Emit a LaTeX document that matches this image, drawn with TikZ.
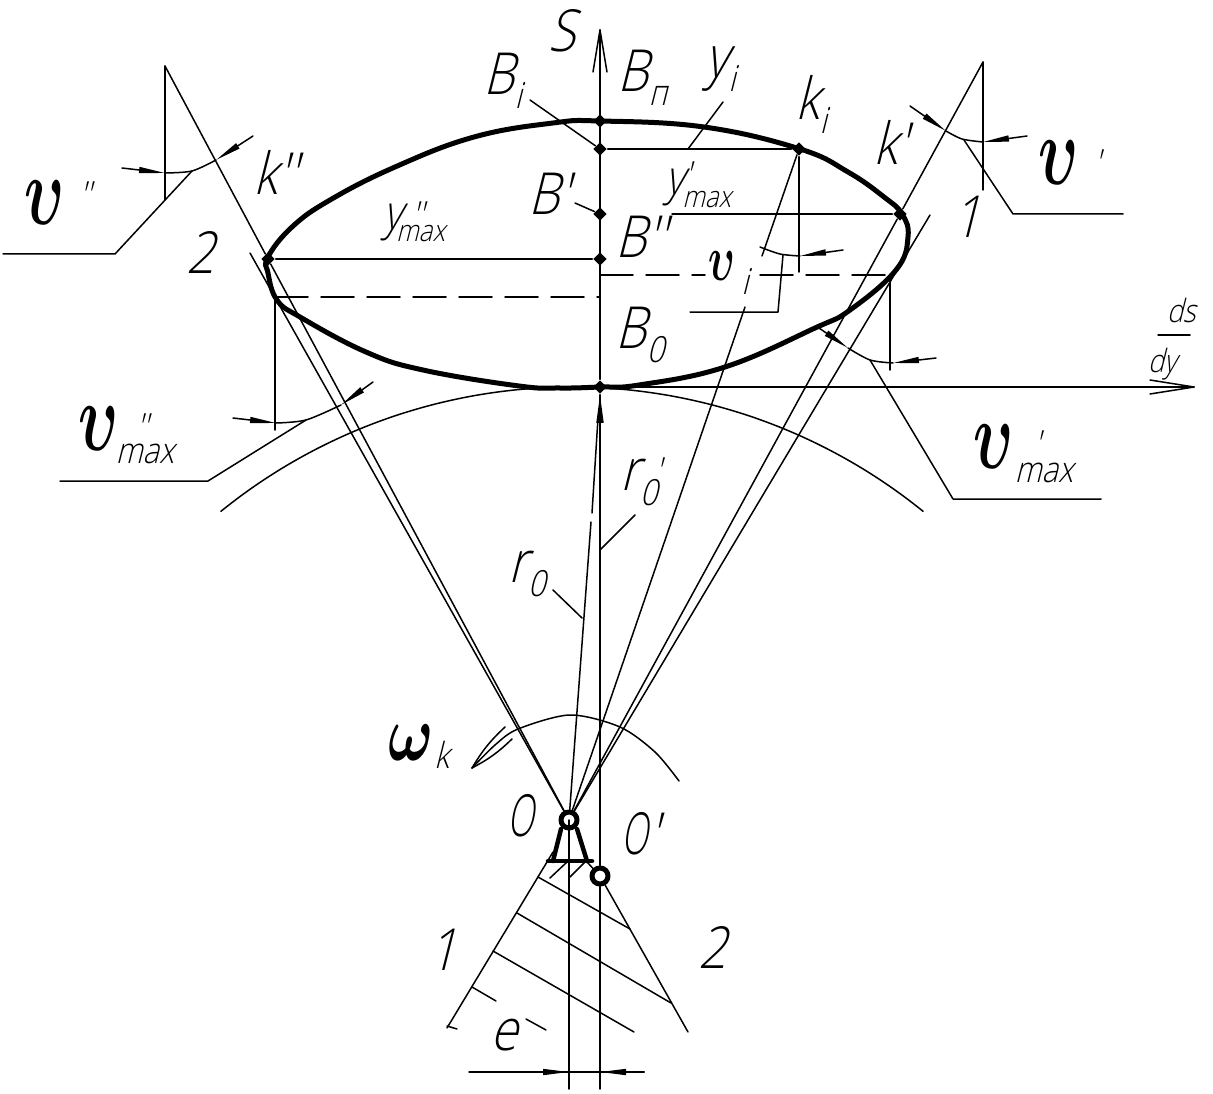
\documentclass[tikz,border=0pt]{standalone}
\usepackage{fontspec}
\usetikzlibrary{arrows.meta,shapes.geometric}
\newfontfamily\isofont[FakeStretch=0.85,FakeSlant=0.25]{Open Sans Light}
\newcommand{\subsz}{\fontsize{36}{40}\selectfont}
\newcommand{\lowtxt}[2][14]{\raisebox{-#1pt}{\subsz #2}}
\newcommand{\hightxt}[2][14]{\raisebox{#1pt}{\subsz #2}}
\newcommand{\lowmax}[1][13]{\raisebox{-#1pt}{\fontsize{30}{32}\selectfont max}}
\newcommand{\mathsym}[3]{\scalebox{#1}[#2]{\fontsize{10}{12}\selectfont\boldmath$#3$}}
\newcommand{\bigv}{\mathsym{6}{9.8}{\upsilon}}
\tikzset{
  lab/.style={anchor=base west,inner sep=0pt,font=\isofont\fontsize{58}{60}\selectfont},
  midlab/.style={lab,font=\isofont\fontsize{48}{50}\selectfont},
  smalllab/.style={anchor=base west,inner sep=0pt,font=\isofont\fontsize{32}{36}\selectfont},
  pt/.style={diamond,fill=black,inner sep=0pt,minimum size=14pt},
  hinge/.style={circle,draw,line width=5pt,inner sep=0pt,minimum size=16pt},
  tip/.style={-{Triangle[length=26pt,width=6pt]}}
}
\begin{document}
\begin{tikzpicture}[x=1pt,y=-1pt,line width=1.5pt,line join=round,line cap=round]
\useasboundingbox (0,0) rectangle (1213,1094);
\def\xO{569} \def\xS{600}
% points on the axis and on the curve
\node[pt] (Bn) at (\xS,121) {};
\node[pt] (Bi) at (\xS,149) {};
\node[pt] (Bp) at (\xS,214) {};
\node[pt] (Bq) at (\xS,259) {};
\node[pt] (B0) at (\xS,387) {};
\node[pt] (ki) at (799,149) {};
\node[pt] (kp) at (900,214) {};
\node[pt] (kq) at (268,259) {};
\node[hinge] (O) at (\xO,820) {};
\node[hinge] (Op) at (\xS,876) {};
\coordinate (apexL) at (165,66);
\coordinate (apexR) at (983,62);
% axes
\draw (\xS,1089)--(Op) (Op)--(B0) (B0)--(\xS,30);
\draw (593,72)--(\xS,30)--(607,72);
\draw (B0)--(1194,387);
\draw (1150,380)--(1194,387)--(1150,394);
\draw (O.center)--(\xO,1089);
\draw (1158,335)--(1190,335);
% curve
\draw[line width=5pt] plot[smooth cycle,tension=0.7] coordinates {(600,121) (704,127) (800,149) (848,172) (884,197) (902,214) (908,237) (896,270) (850,310) (815,328) (725,367) (639,385) (600,387) (560,388) (519,386) (423,370) (366,352) (300,317) (277,300) (268,273) (268,257) (292,227) (330,200) (395,167) (474,137) (553,123)};
% base circle
\draw plot[smooth,samples=60,domain=-39:39] ({572+558*sin(\x)},{945-558*cos(\x)});
% horizontals
\draw (Bi)--(ki) (Bq)--(kq) (kp)--(672,214);
\draw[dash pattern=on 33pt off 13pt] (\xS,275)--(705,275) (760,275)--(890,275);
\draw[dash pattern=on 33pt off 13pt] (275,297)--(\xS,297);
% verticals
\draw (ki)--(799,272) (890,275)--(890,370) (275,297)--(275,430);
\draw (apexL)--(165,200) (apexR)--(983,190);
% rays from the hinge
\draw (apexL)--(kq)--(O);
\draw (250,253)--(O);
\draw (apexR)--(kp)--(O);
\draw (930,215)--(O);
\draw (ki)--(762,256) (745,307)--(O);
\draw (591,522)--(O) (598,418)--(592,513);
\draw[-{Triangle[length=28pt,width=7pt]}] (\xS,430)--(B0);
\draw (553,590)--(582,618) (600,550)--(635,515);
% leaders of the labels
\draw (530,100)--(Bi) (575,203)--(Bp) (723,102)--(688,149);
\draw (192,171)--(115,254)--(3,254);
\draw (964,140)--(1013,214)--(1123,214);
\draw (783,255)--(778,312)--(690,312);
\draw (306,420)--(208,481)--(60,481);
\draw (870,360)--(953,499)--(1101,499);
% angle arcs
\draw[tip] (122,168)--(165,173);
\draw[tip] (253,136)--(216,160);
\draw plot[smooth] coordinates {(165,173) (192,171) (216,160)};
\draw[tip] (910,106)--(946,131);
\draw[tip] (1027,136)--(983,142);
\draw plot[smooth] coordinates {(946,131) (962,139) (983,142)};
\draw[tip] (843,250)--(800,256);
\draw plot[smooth] coordinates {(760,247) (780,254) (800,256)};
\draw[tip] (233,418)--(276,423);
\draw[tip] (373,382)--(341,405);
\draw plot[smooth] coordinates {(276,423) (306,420) (341,405)};
\draw[tip] (819,328)--(848,348);
\draw[tip] (936,358)--(893,363);
\draw plot[smooth] coordinates {(848,348) (870,360) (893,363)};
% rotation arc
\draw plot[smooth] coordinates {(472,768) (495,745) (518,729) (570,715) (620,727) (655,752) (679,781)};
\draw (472,768) to[bend left=8] (505,727);
\draw (472,768) to[bend right=8] (512,739);
% support
\draw[line width=4.5pt] (548,861)--(592,861);
\draw[line width=4.5pt] (561,829)--(553,861) (577,829)--(587,861);
\draw (550,878)--(567,862) (570,877)--(585,862);
% rays 1 and 2 with hatching
\draw (553,852)--(447,1028);
\draw (587,862)--(Op) (Op)--(688,1032);
\draw (538,877)--(630,929);
\draw (517,913)--(671,1003);
\draw (493,951)--(634,1032);
\draw (472,987)--(496,1001) (526,1019)--(546,1030) (447,1026)--(457,1029);
% dimension e
\draw (469,1072)--(644,1072);
\draw[tip] (520,1072)--(\xO,1072);
\draw[tip] (644,1072)--(\xS,1072);
% labels
\node[lab] (tS) at (548,52) {S};
\node[lab] (tBn) at (617,92) {B\lowtxt{п}};
\node[lab] (tBi) at (483,95) {B\lowtxt{i}};
\node[lab] (tBp) at (528,215) {B'};
\node[lab] (tBq) at (615,258) {B''};
\node[lab] (tB0) at (615,348) {B\lowtxt{0}};
\node[lab] (tyi) at (705,78) {y\lowtxt{i}};
\node[lab] (tki) at (795,120) {k\lowtxt{i}};
\node[lab] (tkp) at (873,165) {k'};
\node[lab] (tkq) at (253,195) {k''};
\node[midlab] (tyr) at (665,195) {y\hightxt[7]{'}\kern-8pt\lowmax};
\node[midlab] (tyl) at (383,230) {y\kern9pt\hightxt[2]{''}\kern-27pt\lowmax[12]};
\node[lab] (t1a) at (952,238) {1};
\node[lab] (t2a) at (186,273) {2};
\node[lab] (t1b) at (428,970) {1};
\node[lab] (t2b) at (698,968) {2};
\node[lab] (te) at (490,1050) {e};
\node[lab] (tO) at (507,836) {\scalebox{.7}[1]{O}};
\node[lab] (tOp) at (621,854) {\scalebox{.7}[1]{O}'};
\node[lab] (tr0) at (508,582) {r\lowtxt{0}};
\node[lab] (tr1) at (620,490) {r\kern15pt\hightxt[7]{'}\kern-21pt\lowtxt[15]{0}};
\node[lab] (tvq) at (24,225) {\bigv\kern14pt\hightxt[17]{''}};
\node[lab] (tvp) at (1038,185) {\bigv\kern15pt\hightxt[9]{'}};
\node[lab] (tvi) at (708,280) {\mathsym{4}{6.5}{\upsilon}\kern6pt\lowtxt{i}};
\node[lab] (tvqm) at (78,450) {\bigv\kern17pt\hightxt[11]{''}\kern-32pt\lowtxt[13]{max}};
\node[lab] (tvpm) at (973,468) {\bigv\kern20pt\hightxt[12]{'}\kern-25pt\lowtxt[14]{max}};
\node[lab] (tw) at (388,760) {\mathsym{6}{8}{\omega}\lowtxt[8]{k}};
\node[smalllab] (tds) at (1166,322) {ds};
\node[smalllab] (tdy) at (1147,372) {dy};
\end{tikzpicture}
\end{document}
